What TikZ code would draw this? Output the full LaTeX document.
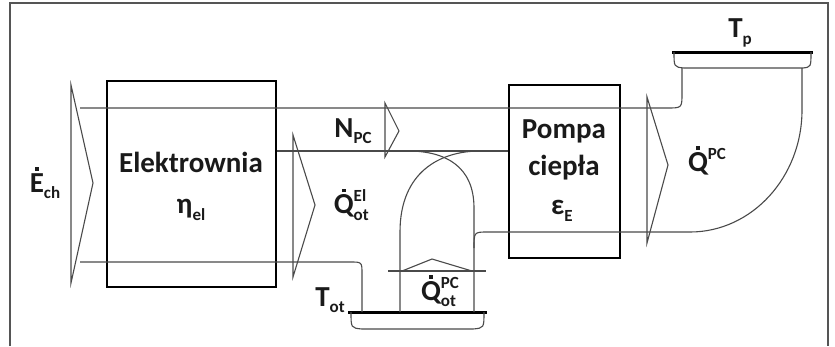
\documentclass[tikz,border=0pt]{standalone}
\usepackage{fontspec}
\setmainfont{Carlito}
\usetikzlibrary{calc}
\definecolor{linegray}{HTML}{4A4A4A}
\definecolor{framegray}{HTML}{555555}
\definecolor{textblack}{HTML}{1A1A1A}
\newcommand\dotover[1]{\ooalign{#1\cr\hidewidth\raisebox{0.74em}{\rule{0.13em}{0.13em}}\hidewidth\cr}}
\newcommand\lo[1]{\raisebox{-0.22em}{\fontsize{17}{17}\selectfont #1}}
\newcommand\hi[1]{\raisebox{0.42em}{\fontsize{17}{17}\selectfont #1}}
\newcommand\lohi[2]{\rlap{\lo{#1}}\hi{#2}}

\begin{document}
\begin{tikzpicture}[
    x=1pt, y=-1pt,
    every node/.style={font=\fontsize{29}{32}\selectfont\bfseries, text=textblack},
    unitbox/.style={
        draw=black, line width=2.6pt, inner sep=0pt
    },
    flow/.style={
        draw=linegray, line width=1.1pt
    },
    chevron/.style={
        draw=linegray, line width=1.1pt, line join=miter
    },
    plate/.style={
        draw=black, line width=3pt
    },
    lbl/.style={inner sep=0pt}
]
\useasboundingbox (0,0) rectangle (835,346);

% ===== Frame =====
\draw[framegray, line width=1.2pt] (10,346) -- (10,3) -- (828,3) -- (828,346);

% ===== Units =====
\node[unitbox, minimum width=169pt, minimum height=206pt] (elek) at (191.5,184) {};
\node[unitbox, minimum width=111pt, minimum height=173pt] (pompa) at (564.5,171.5) {};

\node[lbl] (elektxt) at (191,162) {Elektrownia};
\node[lbl] (etaeltxt) at (191,210) {η\lo{el}};
\node[lbl] (pompatxt) at (564,131) {Pompa};
\node[lbl] (cieplatxt) at (564,168) {ciepła};
\node[lbl] (epstxt) at (562,211) {ε\lo{E}};

% ===== Temperature plates =====
\coordinate (totL) at (348,312);
\coordinate (totR) at (487,312);
\coordinate (tpL) at (672,52);
\coordinate (tpR) at (813,52);
\draw[plate] (totL) -- (totR);
\draw[plate] (tpL) -- (tpR);
\draw[flow] ($(totL)+(3,0)$) .. controls ($(totL)+(3,16)$) .. ($(totL)+(14,17)$)
    -- ($(totR)+(-14,17)$) .. controls ($(totR)+(-3,16)$) .. ($(totR)+(-3,0)$);
\draw[flow] ($(tpL)+(2,0)$) .. controls ($(tpL)+(2,15)$) .. ($(tpL)+(12,16)$)
    -- ($(tpR)+(-10,16)$) .. controls ($(tpR)+(-2,15)$) .. ($(tpR)+(-2,0)$);

\node[lbl] (tottxt) at (330,300) {T\lo{ot}};
\node[lbl] (tptxt) at (740,33) {T\lo{p}};

% ===== Flow lines =====
\coordinate (inTop) at (80,108);
\coordinate (inBot) at (80,262);
\coordinate (pipeIn) at (682,68);
\coordinate (pipeOut) at (802,68);
\coordinate (archL) at (400,312);
\coordinate (archR) at (474,312);

% driving energy to the heat pump and on to the elbow
\draw[flow] (inTop) -- (667,108) .. controls (682,108) .. (682,93) -- (pipeIn);
% power line
\draw[flow] (elek.east |- 0,151) -- (pompa.west |- 0,151);
% waste heat to T_ot
\draw[flow] (inBot) -- (350,262) .. controls (362,262) .. (362,274) -- (totL -| 362,0);
% arch of the low-temperature stream
\draw[flow] (archL) -- (400,232) .. controls (400,172) and (440,151) .. (480,151);
\draw[flow] (archR) -- (474,208) .. controls (474,166) and (445,151) .. (408,151);
% low-temperature heat into the pump and the useful heat out
\draw[flow] (474,248) .. controls (474,232) .. (488,232) -- (690,232)
    .. controls (752,232) and (802,177) .. (802,110) -- (pipeOut);

% ===== Chevrons =====
\draw[chevron] (71,85) -- (71,283) -- (93,183) -- cycle;
\draw[chevron] (385,103) -- (385,157) -- (399,131) -- cycle;
\draw[chevron] (293,135) -- (293,277) -- (315,205) -- cycle;
\draw[chevron] (647,97) -- (647,243) -- (668,165) -- cycle;
\draw[chevron] (388,271) -- (486,271);
\draw[chevron] (402,271) -- (432,259) -- (472,271);

% ===== Flow labels =====
\node[lbl] (echtxt) at (45,186) {\dotover{E}\lo{ch}};
\node[lbl] (npctxt) at (353,131) {N\lo{PC}};
\node[lbl] (qeltxt) at (350,205) {\dotover{Q}\lohi{ot}{El}};
\node[lbl] (qotpctxt) at (440,292) {\dotover{Q}\lohi{ot}{PC}};
\node[lbl] (qpctxt) at (707,160) {\dotover{Q}\hi{PC}};

\end{tikzpicture}
\end{document}
